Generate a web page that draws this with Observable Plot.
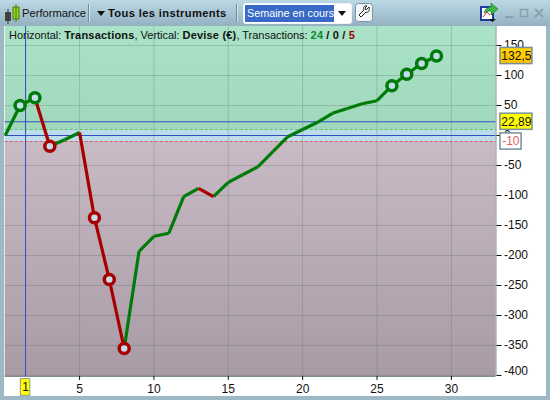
<!DOCTYPE html>
<html><head><meta charset="utf-8">
<script src="https://cdn.jsdelivr.net/npm/d3@7"></script>
<script src="https://cdn.jsdelivr.net/npm/@observablehq/plot@0.6"></script>
<style>
html,body{margin:0;padding:0;width:550px;height:400px;overflow:hidden;background:#9db9c5;font-family:"Liberation Sans",Arial,sans-serif}
#bar{position:absolute;left:0;top:0;width:550px;height:26px;background:linear-gradient(#bcd8e5,#93b1c1)}
#panel{position:absolute;left:4px;top:26px;width:542px;height:370px;background:#fff}
#chart{position:absolute;left:0;top:0}
.t{position:absolute;white-space:nowrap;color:#111;font-size:11.200px}
.sep{position:absolute;top:4px;width:1px;height:18px;background:#6f8a98;border-right:1px solid #d5e5ec}
#title{position:absolute;left:9px;top:28px;font-size:11px;white-space:nowrap;color:#111;line-height:14px;letter-spacing:-.03px}
#title b{letter-spacing:.2px}
</style></head><body>
<div id="bar"></div><div id="panel"></div><div id="chart"></div>
<svg style="position:absolute;left:0;top:0" width="550" height="26">
 <rect x="5" y="12" width="6" height="9" fill="#444"/><path d="M8 9V24" stroke="#333"/>
 <rect x="13" y="7" width="6" height="12" fill="#8fd818" stroke="#4a7a10"/><path d="M16 4V22" stroke="#4a7a10"/>
 <path d="M97 11h8l-4 5z" fill="#111"/>
 <rect x="243.500" y="3.500" width="108" height="20" rx="2" fill="#fff" stroke="#f0f6f8"/>
 <rect x="245" y="5" width="89" height="17" fill="#3869c6"/>
 <path d="M338 11h8l-4 5z" fill="#111"/>
 <rect x="355.500" y="3.500" width="17" height="18" rx="3" fill="#f2f6f8" stroke="#7d95a3"/>
 <path d="M369 7l-3 3-1-2 2-2c-3-1-4 2-3 4l-5 5 2 2 5-5c2 1 4-1 3-5z" fill="#fff" stroke="#222"/>
 <rect x="481" y="7" width="12" height="13" fill="#fff" stroke="#1f3fa0" stroke-width="2"/>
 <path d="M483 17l4-5 3 3" stroke="#d22" fill="none"/>
 <path d="M484 13c1-4 4-6 7-6V3l7 6-7 6v-4c-3 0-5 1-7 2z" fill="#3bb54a" stroke="#1a7a2a" stroke-width=".6"/>
 <path d="M489 19h7l-3.500 3z" fill="#111"/>
 <rect x="505" y="16" width="8" height="2" fill="#8aa0ad"/>
 <rect x="520.500" y="9.500" width="7" height="7" fill="none" stroke="#8aa0ad" stroke-width="1.500"/>
 <path d="M535 9l8 8M543 9l-8 8" stroke="#8aa0ad" stroke-width="2"/>
</svg>
<div class="t" style="left:22px;top:7px">Performance</div>
<div class="sep" style="left:88px"></div>
<div class="t" style="left:108px;top:7px;font-weight:bold;letter-spacing:.35px">Tous les instruments</div>
<div class="sep" style="left:236px"></div>
<div class="t" style="left:247px;top:7px;color:#fff;font-size:10.800px">Semaine en cours</div>
<div id="title">Horizontal: <b>Transactions</b>, Vertical: <b>Devise (€)</b>, Transactions: <b style="color:#0a8a2a">24</b> <b>/ 0 /</b> <b style="color:#a00000">5</b></div>
<script>
const trades = [0,1,2,3,4,5,6,7,8,9,10,11,12,13,14,15,16,17,18,19,20,21,22,23,24,25,26,27,28,29];
const equity = [0,50,63,-18,-7,5,-137,-240,-355,-193,-168,-163,-102,-88,-102,-78,-65,-52,-27,-2,10,22,37,45,53,58,83,102,120,132.5];
const markedTrades = [1,2,3,6,7,8,26,27,28,29];
const yTicks = [-400,-350,-300,-250,-200,-150,-100,-50,0,50,100,150];
const xTicks = [5,10,15,20,25,30];
const bandUpper = 10, bandLower = -10, lastValue = 132.5, cursorValue = 22.89, cursorTrade = 1.37;
const xMax = 33, yMin = -401.7, yMax = 181.7;

const GREEN = "#007a08", RED = "#a80000";
const segments = trades.slice(1).map((x,i)=>({x1:trades[i],y1:equity[i],x2:x,y2:equity[i+1],loss:equity[i+1]<equity[i]}));
const marked = markedTrades.map(x=>({x,y:equity[trades.indexOf(x)],loss:equity[trades.indexOf(x)]<equity[trades.indexOf(x)-1]}));
const box = (x1,x2,yc,fill)=>Plot.rect([0],{x1:()=>x1,x2:()=>x2,y1:()=>yc-13.5,y2:()=>yc+13.5,fill,stroke:"#75909c",strokeWidth:1.5});
const grid = "#5a6a66";

const plot = Plot.plot({
  width:550,height:400,
  marginLeft:4.7,marginRight:54.5,marginTop:26,marginBottom:24,
  x:{domain:[0,xMax],range:[4.7,495.5]},
  y:{domain:[yMin,yMax],range:[376,26]},
  style:{background:"transparent",fontFamily:"Liberation Sans, Arial, sans-serif",fontSize:"12px",color:"#111"},
  marks:[
    Plot.rect([0],{x1:()=>0,x2:()=>xMax,y1:()=>bandUpper,y2:()=>yMax,fill:"url(#gGreen)"}),
    Plot.rect([0],{x1:()=>0,x2:()=>xMax,y1:()=>bandLower,y2:()=>bandUpper,fill:"url(#gBlue)"}),
    Plot.rect([0],{x1:()=>0,x2:()=>xMax,y1:()=>yMin,y2:()=>bandLower,fill:"url(#gRed)"}),
    Plot.ruleX(xTicks,{stroke:grid,strokeOpacity:.28,y1:yMin,y2:yMax}),
    Plot.ruleY(yTicks,{stroke:grid,strokeOpacity:.28,x1:0,x2:xMax}),
    Plot.ruleY([bandUpper],{x1:0,x2:xMax,stroke:"#62c060",strokeDasharray:"3,2"}),
    Plot.ruleY([bandLower],{x1:0,x2:xMax,stroke:"#d86060",strokeDasharray:"3,2"}),
    Plot.ruleY([0,cursorValue],{x1:0,x2:xMax,stroke:"#2f4fc0"}),
    Plot.ruleX([cursorTrade],{y1:yMin,y2:yMax,stroke:"#2f4fc0"}),
    Plot.ruleX([xMax],{y1:yMin,y2:yMax,stroke:"#7d8f90"}),
    Plot.ruleY([yMin],{x1:0,x2:xMax,stroke:"#7d8f90"}),
    Plot.axisX({ticks:xTicks,tickSize:4,tickPadding:4,tickFormat:d=>String(d),label:null}),
    Plot.axisY({anchor:"right",ticks:yTicks,tickSize:5,tickPadding:3,tickFormat:d=>d===-400?"":String(d),label:null}),
    Plot.text([-400],{x:()=>xMax,y:d=>d,text:d=>String(d),dx:8,dy:-4,textAnchor:"start",fill:"#111",fontSize:12}),
    Plot.link(segments.filter(d=>!d.loss),{x1:"x1",y1:"y1",x2:"x2",y2:"y2",stroke:GREEN,strokeWidth:3.2}),
    Plot.link(segments.filter(d=>d.loss),{x1:"x1",y1:"y1",x2:"x2",y2:"y2",stroke:RED,strokeWidth:3.2}),
    Plot.dot(marked,{x:"x",y:"y",r:5,fill:"#c5dcec",stroke:d=>d.loss?RED:GREEN,strokeWidth:3.5}),
    box(33.3,35.45,lastValue,"url(#gOrange)"),
    Plot.text([lastValue],{x:()=>34.37,y:d=>d,text:()=>"132,5",fill:"#111",fontSize:12}),
    box(33.3,35.45,cursorValue,"#ffff00"),
    Plot.text([cursorValue],{x:()=>34.37,y:d=>d,text:()=>"22,89",fill:"#111",fontSize:12}),
    box(33.3,34.72,bandLower,"#fff"),
    Plot.text([bandLower],{x:()=>34.0,y:d=>d,text:()=>"-10",fill:"#e06060",fontSize:12}),
    Plot.rect([0],{x1:()=>cursorTrade-.32,x2:()=>cursorTrade+.32,y1:()=>-406,y2:()=>-434,fill:"#ffff00",stroke:"#8a9a8a",strokeWidth:1}),
    Plot.text([1],{x:()=>cursorTrade,y:()=>-420,text:d=>String(d),fill:"#111",fontSize:12})
  ]
});
const defs = d3.select(plot).insert("defs",":first-child");
[["gGreen","#aae3c8","#a0d8bc"],["gBlue","#b9dcea","#c0dcec"],["gRed","#c9bbc6","#a99ba5"],["gOrange","#ffd400","#ffc000"]].forEach(([id,a,b])=>{
  const g=defs.append("linearGradient").attr("id",id).attr("x1",0).attr("y1",0).attr("x2",0).attr("y2",1);
  g.append("stop").attr("offset",0).attr("stop-color",a);
  g.append("stop").attr("offset",1).attr("stop-color",b);
});
document.getElementById("chart").append(plot);
</script>
</body></html>
